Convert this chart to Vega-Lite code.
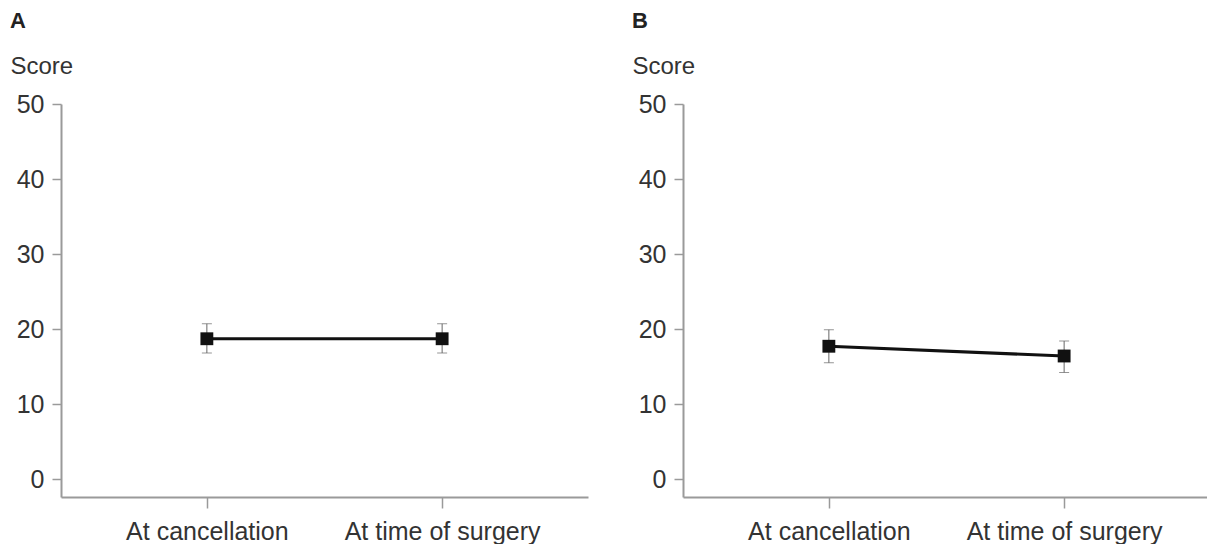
{
  "$schema": "https://vega.github.io/schema/vega-lite/v6.json",
  "padding": {"left": 10, "top": 10, "right": 0, "bottom": 0},
  "background": "white",
  "datasets": {
    "A": [
      {"time": "At cancellation", "mean": 18.7, "lo": 16.8, "hi": 20.7},
      {"time": "At time of surgery", "mean": 18.7, "lo": 16.8, "hi": 20.7}
    ],
    "B": [
      {"time": "At cancellation", "mean": 17.7, "lo": 15.5, "hi": 19.9},
      {"time": "At time of surgery", "mean": 16.4, "lo": 14.2, "hi": 18.4}
    ]
  },
  "config": {
    "view": {"stroke": null},
    "font": "Liberation Sans",
    "axis": {
      "domainColor": "#9a9a9a",
      "domainWidth": 2,
      "tickColor": "#9a9a9a",
      "tickWidth": 1.5,
      "labelColor": "#333333",
      "labelFontSize": 25,
      "labelFont": "Liberation Sans",
      "labelLimit": 0,
      "grid": false,
      "titleColor": "#333333",
      "titleFont": "Liberation Sans",
      "titleFontSize": 24,
      "titleFontWeight": "normal"
    },
    "title": {"font": "Liberation Sans", "fontSize": 22, "fontWeight": "bold", "color": "#222222"}
  },
  "spacing": 44,
  "hconcat": [
    {
      "title": {"text": "A", "anchor": "start", "frame": "group", "dx": -51, "offset": 21},
      "width": 527,
      "height": 393,
      "data": {"name": "A"},
      "encoding": {
        "x": {
          "field": "time", "type": "ordinal",
          "scale": {"type": "point", "padding": 0.62},
          "axis": {"title": null, "labelAngle": 0, "tickSize": 11, "labelPadding": 11}
        }
      },
      "layer": [
        {
          "mark": {"type": "rule", "color": "#666666", "strokeWidth": 1},
          "encoding": {
            "y": {"field": "lo", "type": "quantitative"},
            "y2": {"field": "hi"}
          }
        },
        {
          "mark": {"type": "tick", "color": "#666666", "thickness": 1, "size": 10, "orient": "horizontal"},
          "encoding": {"y": {"field": "lo", "type": "quantitative"}}
        },
        {
          "mark": {"type": "tick", "color": "#666666", "thickness": 1, "size": 10, "orient": "horizontal"},
          "encoding": {"y": {"field": "hi", "type": "quantitative"}}
        },
        {
          "mark": {"type": "line", "color": "#111111", "strokeWidth": 3.2},
          "encoding": {"y": {"field": "mean", "type": "quantitative"}}
        },
        {
          "mark": {"type": "point", "shape": "square", "filled": true, "color": "#111111", "opacity": 1, "size": 165},
          "encoding": {
            "y": {
              "field": "mean", "type": "quantitative",
              "scale": {"domain": [-2.4, 50], "nice": false, "zero": false},
              "axis": {
                "title": "Score", "values": [0, 10, 20, 30, 40, 50], "tickSize": 9, "labelPadding": 8,
                "titleAngle": 0, "titleAlign": "left", "titleBaseline": "alphabetic", "titleX": -51, "titleY": -31
              }
            }
          }
        }
      ]
    },
    {
      "title": {"text": "B", "anchor": "start", "frame": "group", "dx": -51, "offset": 21},
      "width": 527,
      "height": 393,
      "data": {"name": "B"},
      "encoding": {
        "x": {
          "field": "time", "type": "ordinal",
          "scale": {"type": "point", "padding": 0.62},
          "axis": {"title": null, "labelAngle": 0, "tickSize": 11, "labelPadding": 11}
        }
      },
      "layer": [
        {
          "mark": {"type": "rule", "color": "#666666", "strokeWidth": 1},
          "encoding": {
            "y": {"field": "lo", "type": "quantitative"},
            "y2": {"field": "hi"}
          }
        },
        {
          "mark": {"type": "tick", "color": "#666666", "thickness": 1, "size": 10, "orient": "horizontal"},
          "encoding": {"y": {"field": "lo", "type": "quantitative"}}
        },
        {
          "mark": {"type": "tick", "color": "#666666", "thickness": 1, "size": 10, "orient": "horizontal"},
          "encoding": {"y": {"field": "hi", "type": "quantitative"}}
        },
        {
          "mark": {"type": "line", "color": "#111111", "strokeWidth": 3.2},
          "encoding": {"y": {"field": "mean", "type": "quantitative"}}
        },
        {
          "mark": {"type": "point", "shape": "square", "filled": true, "color": "#111111", "opacity": 1, "size": 165},
          "encoding": {
            "y": {
              "field": "mean", "type": "quantitative",
              "scale": {"domain": [-2.4, 50], "nice": false, "zero": false},
              "axis": {
                "title": "Score", "values": [0, 10, 20, 30, 40, 50], "tickSize": 9, "labelPadding": 8,
                "titleAngle": 0, "titleAlign": "left", "titleBaseline": "alphabetic", "titleX": -51, "titleY": -31
              }
            }
          }
        }
      ]
    }
  ]
}
